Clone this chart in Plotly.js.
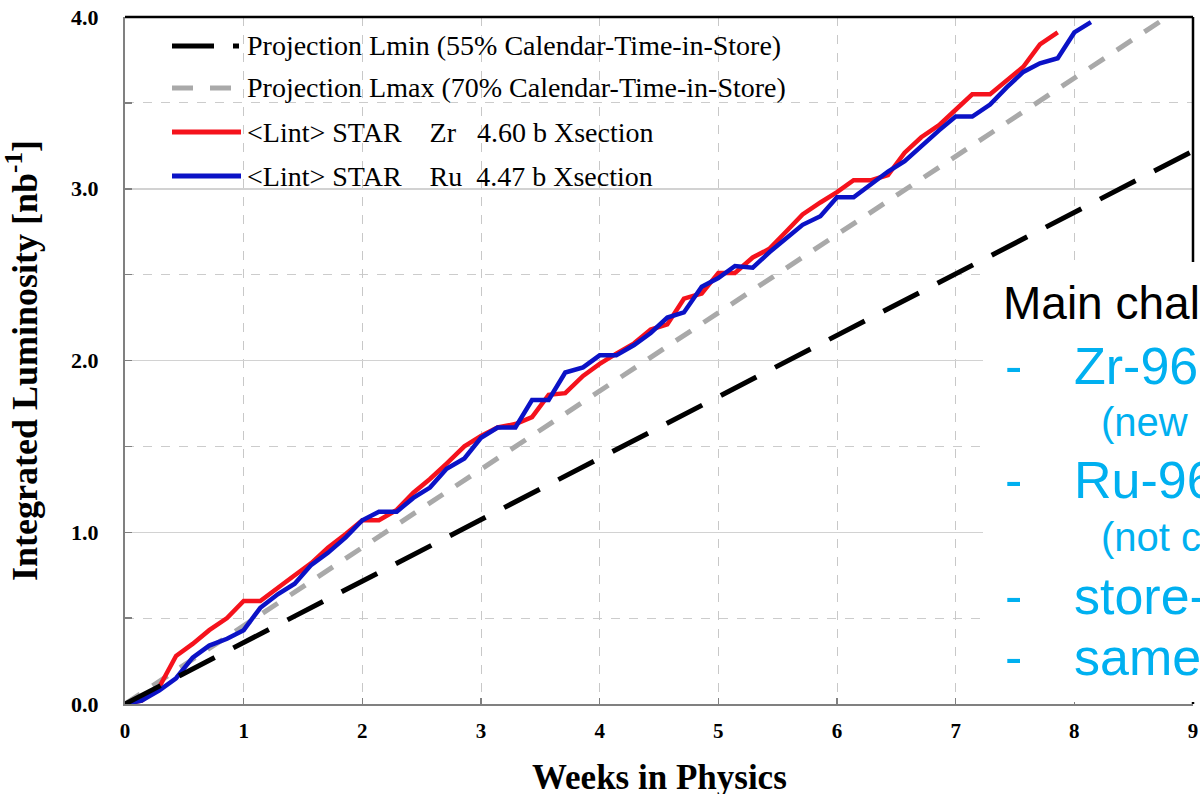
<!DOCTYPE html>
<html>
<head>
<meta charset="utf-8">
<script src="https://cdn.plot.ly/plotly-3.0.1.min.js"></script>
<style>html,body{margin:0;padding:0;background:#fff;}#chart{width:1200px;height:794px;}</style>
</head>
<body>
<div id="chart"></div>
<script>
// ---- data ----
const weeksZr = [0.00,0.14,0.29,0.43,0.57,0.71,0.86,1.00,1.14,1.29,1.43,1.57,1.71,1.86,2.00,2.14,2.29,2.43,2.57,2.71,2.86,3.00,3.14,3.29,3.43,3.57,3.71,3.86,4.00,4.14,4.29,4.43,4.57,4.71,4.86,5.00,5.14,5.29,5.43,5.57,5.71,5.86,6.00,6.14,6.29,6.43,6.57,6.71,6.86,7.00,7.14,7.29,7.43,7.57,7.71,7.86];
const lintZr  = [0.00,0.02,0.10,0.28,0.35,0.43,0.50,0.60,0.60,0.68,0.75,0.82,0.91,0.99,1.07,1.07,1.13,1.23,1.31,1.40,1.50,1.56,1.61,1.63,1.67,1.80,1.81,1.91,1.98,2.04,2.10,2.18,2.21,2.36,2.39,2.51,2.51,2.60,2.65,2.75,2.85,2.92,2.98,3.05,3.05,3.08,3.21,3.30,3.37,3.46,3.55,3.55,3.63,3.71,3.84,3.91];
const weeksRu = [0.00,0.14,0.29,0.43,0.57,0.71,0.86,1.00,1.14,1.29,1.43,1.57,1.71,1.86,2.00,2.14,2.29,2.43,2.57,2.71,2.86,3.00,3.14,3.29,3.43,3.57,3.71,3.86,4.00,4.14,4.29,4.43,4.57,4.71,4.86,5.00,5.14,5.29,5.43,5.57,5.71,5.86,6.00,6.14,6.29,6.43,6.57,6.71,6.86,7.00,7.14,7.29,7.43,7.57,7.71,7.86,8.00,8.14];
const lintRu  = [0.00,0.02,0.08,0.15,0.27,0.34,0.38,0.43,0.56,0.64,0.70,0.81,0.88,0.97,1.07,1.12,1.12,1.20,1.26,1.37,1.43,1.55,1.61,1.61,1.77,1.77,1.93,1.96,2.03,2.03,2.09,2.16,2.25,2.28,2.43,2.48,2.55,2.54,2.63,2.71,2.79,2.84,2.95,2.95,3.03,3.10,3.16,3.25,3.34,3.42,3.42,3.49,3.59,3.68,3.73,3.76,3.91,3.97];
const projWeeks = [0, 9];
const lminVals  = [0, 3.22];
const lmaxVals  = [0, 4.10];
const xTicks = [0,1,2,3,4,5,6,7,8,9];
const yTicks = [0,1,2,3,4];
const yTickText = ['0.0','1.0','2.0','3.0','4.0'];
const xTitle = 'Weeks in Physics';
const legendLabels = [
  'Projection Lmin (55% Calendar-Time-in-Store)',
  'Projection Lmax (70% Calendar-Time-in-Store)',
  '&lt;Lint&gt; STAR    Zr   4.60 b Xsection',
  '&lt;Lint&gt; STAR    Ru  4.47 b Xsection'
];
const noteTitle = 'Main chal';
const noteItems = ['Zr-96', 'Ru-96', 'store-', 'same'];
const noteSubs = ['(new', '(not c'];

// ---- geometry helpers (pixel -> paper) ----
const L = 125, R = 1193, T = 17, B = 704;
const W = R - L, H = B - T;
const px = p => (p - L) / W;
const py = p => (B - p) / H;

const serif = 'Liberation Serif, Times New Roman, serif';
const sans = 'Liberation Sans, Arial, sans-serif';
const red = '#f5121c', blue = '#0b12c6', gray = '#a9a9a9';

const traces = [
  {x: projWeeks, y: lminVals, xaxis: 'x2', mode: 'lines', line: {color: '#000', width: 5, dash: '40px,21px'}, showlegend: false, hoverinfo: 'skip'},
  {x: projWeeks, y: lmaxVals, mode: 'lines', line: {color: gray, width: 5, dash: '18px,15px'}, showlegend: false, hoverinfo: 'skip'},
  {x: weeksZr, y: lintZr, mode: 'lines', line: {color: red, width: 4.5}, showlegend: false},
  {x: weeksRu, y: lintRu, mode: 'lines', line: {color: blue, width: 4.5}, showlegend: false}
];

const rowsY = [46, 88, 132, 176];
const shapes = [];
const annotations = [];
// manual legend samples
shapes.push({type:'line', xref:'paper', yref:'paper', x0:px(172), x1:px(214), y0:py(rowsY[0]), y1:py(rowsY[0]), line:{color:'#000', width:5}});
shapes.push({type:'line', xref:'paper', yref:'paper', x0:px(233), x1:px(239), y0:py(rowsY[0]), y1:py(rowsY[0]), line:{color:'#000', width:5}});
shapes.push({type:'line', xref:'paper', yref:'paper', x0:px(172), x1:px(232), y0:py(rowsY[1]), y1:py(rowsY[1]), line:{color:gray, width:5, dash:'21px,17px'}});
shapes.push({type:'line', xref:'paper', yref:'paper', x0:px(172), x1:px(241), y0:py(rowsY[2]), y1:py(rowsY[2]), line:{color:red, width:5}});
shapes.push({type:'line', xref:'paper', yref:'paper', x0:px(172), x1:px(241), y0:py(rowsY[3]), y1:py(rowsY[3]), line:{color:blue, width:5}});
legendLabels.forEach((t, i) => {
  annotations.push({xref:'paper', yref:'paper', x:px(245), y:py(rowsY[i]), xanchor:'left', yanchor:'middle', text:t, showarrow:false, font:{family:serif, size:28, color:'#000'}});
});
// frame: top and right borders
shapes.push({type:'line', xref:'paper', yref:'paper', x0:0, x1:1, y0:1, y1:1, line:{color:'#000', width:2.5}, layer:'above'});
shapes.push({type:'line', xref:'paper', yref:'paper', x0:1, x1:1, y0:0, y1:1, line:{color:'#000', width:2.5}, layer:'above'});
// white slide text box overlaying the chart
shapes.push({type:'rect', xref:'paper', yref:'paper', x0:px(983), x1:px(1215), y0:py(702), y1:py(262), fillcolor:'#fff', line:{width:0}, layer:'above'});

// x-axis title placed as an annotation at the reference position
annotations.push({xref:'paper', yref:'paper', x:0.5, y:py(777), xanchor:'center', yanchor:'middle', text:'<b>' + xTitle + '</b>', showarrow:false, font:{family:serif, size:35, color:'#000'}});

annotations.push({xref:'paper', yref:'paper', x:px(1001), y:py(303), xanchor:'left', yanchor:'middle', text:noteTitle, showarrow:false, font:{family:sans, size:46, color:'#000'}});
const itemY = [366, 480, 596, 657];
noteItems.forEach((t, i) => {
  annotations.push({xref:'paper', yref:'paper', x:px(1003), y:py(itemY[i]), xanchor:'left', yanchor:'middle', text:'-', showarrow:false, font:{family:sans, size:52, color:'#00b0f0'}});
  annotations.push({xref:'paper', yref:'paper', x:px(1072), y:py(itemY[i]), xanchor:'left', yanchor:'middle', text:t, showarrow:false, font:{family:sans, size:52, color:'#00b0f0'}});
});
const subY = [422, 537];
noteSubs.forEach((t, i) => {
  annotations.push({xref:'paper', yref:'paper', x:px(1099), y:py(subY[i]), xanchor:'left', yanchor:'middle', text:t, showarrow:false, font:{family:sans, size:40, color:'#00b0f0'}});
});

const layout = {
  width: 1200, height: 794,
  margin: {l: L, r: 1200 - R, t: T, b: 794 - B, pad: 0},
  paper_bgcolor: '#fff', plot_bgcolor: '#fff',
  showlegend: false,
  xaxis: {
    range: [0, 9], tickvals: xTicks, ticktext: xTicks.map(String),
    showgrid: true, gridcolor: '#c8c8c8', gridwidth: 1, griddash: 'dash',
    showline: true, linecolor: '#808080', linewidth: 2,
    ticks: 'outside', ticklen: 7, tickcolor: 'rgba(0,0,0,0)', tickwidth: 1,
    tickfont: {family: serif, size: 21, color: '#000', weight: 'bold'},
    zeroline: false, automargin: false
  },
  xaxis2: {
    overlaying: 'x', anchor: 'y', side: 'bottom', matches: 'x',
    range: [0, 9], tickvals: xTicks, showticklabels: false,
    showgrid: false, showline: false, zeroline: false,
    ticks: 'inside', ticklen: 6, tickcolor: '#808080', tickwidth: 1.5
  },
  yaxis: {
    range: [0, 4], tickvals: yTicks, ticktext: yTickText,
    showgrid: true, gridcolor: '#d2d2d2', gridwidth: 1.5,
    minor: {dtick: 0.5, showgrid: true, gridcolor: '#cccccc', gridwidth: 1, griddash: 'dash', ticks: 'inside', ticklen: 7, tickcolor: '#808080'},
    showline: true, linecolor: '#808080', linewidth: 2,
    ticks: 'inside', ticklen: 7, tickcolor: '#808080', tickwidth: 1.5,
    ticklabelstandoff: 20,
    tickfont: {family: serif, size: 22, color: '#000', weight: 'bold'},
    zeroline: false, automargin: false,
    title: {text: '<b>Integrated Luminosity [nb<sup>-1</sup>]</b>', font: {family: serif, size: 36, color: '#000'}, standoff: 22}
  },
  shapes: shapes,
  annotations: annotations
};

Plotly.newPlot('chart', traces, layout, {displayModeBar: false, staticPlot: true});
</script>
</body>
</html>
